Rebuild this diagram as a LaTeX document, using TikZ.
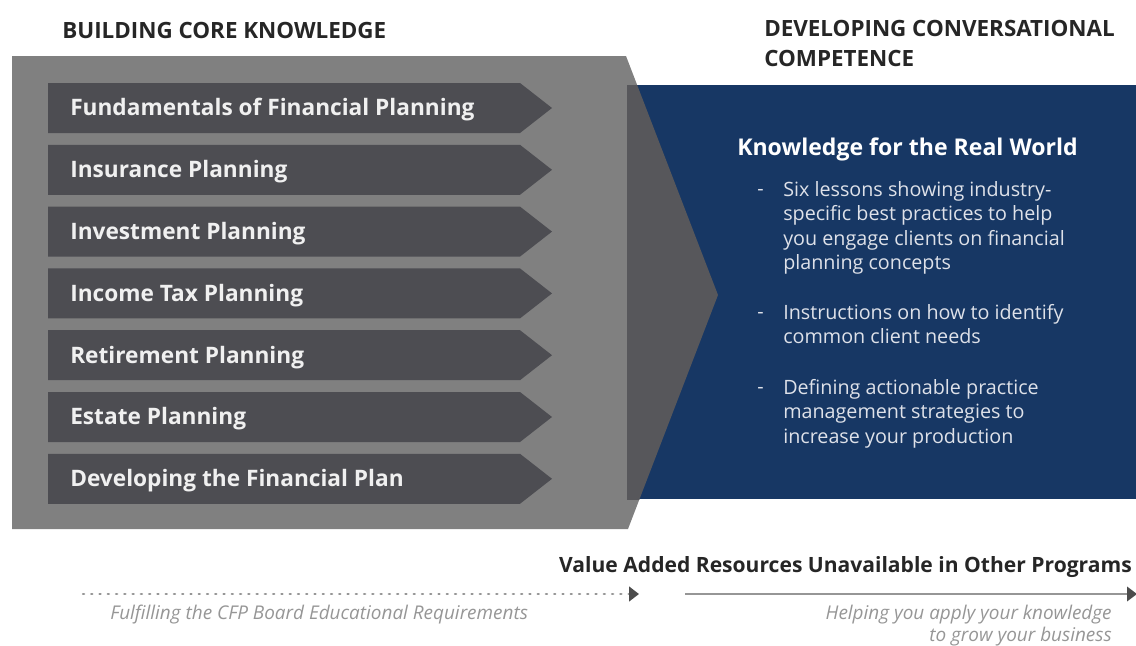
\documentclass[tikz,border=0pt]{standalone}
\usepackage{fontspec}
\setmainfont{Open Sans}
\usetikzlibrary{arrows.meta}
\definecolor{panelgray}{RGB}{128,128,128}
\definecolor{itemgray}{RGB}{77,77,82}
\definecolor{overlapgray}{RGB}{87,87,91}
\definecolor{navy}{RGB}{23,55,100}
\definecolor{bullettext}{RGB}{222,225,233}
\definecolor{notegray}{RGB}{150,150,150}
\def\grayarrow{(12,56) -- (626,56) -- (718,295) -- (628,529) -- (12,529) -- cycle}
\def\bluebox{(627,85) rectangle (1136,499)}

\begin{document}
\begin{tikzpicture}[x=0.75pt,y=-0.75pt,
  head/.style={anchor=west,inner sep=0,align=left,text=black!85,
    font=\fontsize{16.8}{22.5}\selectfont\bfseries},
  itemtext/.style={anchor=west,inner sep=0,text=white!94!black,
    font=\fontsize{17}{20}\selectfont\bfseries},
  bullet/.style={anchor=north west,inner sep=0,align=left,text=bullettext,
    font=\fontsize{14.8}{18.4}\selectfont},
  dashmark/.style={anchor=west,inner sep=0,text=bullettext,font=\fontsize{14.8}{18.4}\selectfont},
  note/.style={inner sep=0,text=notegray,font=\fontsize{14.2}{16.5}\selectfont\itshape}]
\useasboundingbox (0,0) rectangle (1136,646);

% headings
\node[head] (core) at (62,30) {BUILDING CORE KNOWLEDGE};
\node[head] (conv) at (764,43) {DEVELOPING CONVERSATIONAL\\COMPETENCE};

% big arrow and the blue panel
\fill[panelgray] \grayarrow;
\fill[navy] \bluebox;
\begin{scope}
\clip \bluebox;
\fill[overlapgray] \grayarrow;
\end{scope}

% the seven courses
\foreach \txt [count=\i] in {Fundamentals of Financial Planning, Insurance Planning,
  Investment Planning, Income Tax Planning, Retirement Planning, Estate Planning,
  Developing the Financial Plan}
{
  \pgfmathsetmacro\ytop{83+61.8*(\i-1)}
  \fill[itemgray] (48,\ytop) -- ++(472,0) -- ++(32,25) -- ++(-32,25) -- ++(-472,0) -- cycle;
  \node[itemtext] (item\i) at (70,\ytop+27) {\txt};
}

% real world box
\node[anchor=west,inner sep=0,text=white,font=\fontsize{17.3}{20}\selectfont\bfseries]
  (real) at (737,149) {Knowledge for the Real World};
\node[dashmark] (d1) at (757,192) {-};
\node[bullet] (b1) at (783,181) {Six lessons showing industry-\\specific best practices to help\\you engage clients on financial\\planning concepts};
\node[dashmark] (d2) at (757,315) {-};
\node[bullet] (b2) at (783,304) {Instructions on how to identify\\common client needs};
\node[dashmark] (d3) at (757,390) {-};
\node[bullet] (b3) at (783,379) {Defining actionable practice\\management strategies to\\increase your production};

% bottom timeline
\node[anchor=east,inner sep=0,text=black!85,font=\fontsize{15.8}{18}\selectfont\bfseries]
  (value) at (1132,567) {Value Added Resources Unavailable in Other Programs};
\coordinate (dotL) at (83,594);
\coordinate (dotR) at (639,594);
\coordinate (lineL) at (685,594);
\coordinate (lineR) at (1137,594);
\draw[notegray,line width=1.8pt,line cap=round,dash pattern=on 0.8pt off 5.4pt,
  -{Triangle[length=7.5pt,width=11pt,color=black!70,line cap=butt]}] (dotL) -- (dotR);
\draw[notegray,line width=1.1pt,-{Triangle[length=7.5pt,width=11pt,color=black!70]}] (lineL) -- (lineR);
\node[note,anchor=west] (req) at (110,615) {Fulfilling the CFP Board Educational Requirements};
\node[note,anchor=east,align=right] (grow) at (1112,626) {Helping you apply your knowledge\\to grow your business};
\end{tikzpicture}
\end{document}
